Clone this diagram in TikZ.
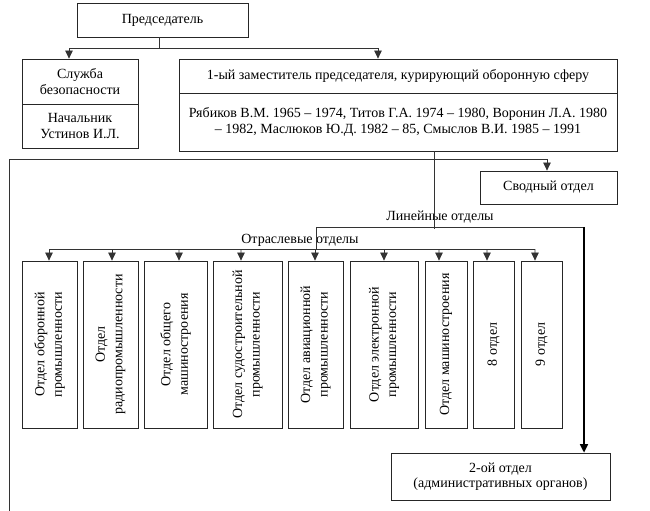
\documentclass[tikz,border=0pt]{standalone}
\usepackage{fontspec}
\setmainfont{Liberation Serif}
\usetikzlibrary{arrows.meta}
\tikzset{
  box/.style={draw=black!85, line width=0.8bp, rectangle, inner sep=0pt, align=center,
    font=\fontsize{14bp}{15.5bp}\selectfont},
  dept/.style={box, minimum width=#1, minimum height=167bp},
  vtext/.style={rotate=90, align=center, inner sep=0pt, font=\fontsize{14bp}{17.5bp}\selectfont},
  lbl/.style={inner sep=0pt, font=\fontsize{14bp}{15.5bp}\selectfont},
  conn/.style={draw=black!80, line width=0.8bp},
  arr/.style={conn, -{Triangle[length=8bp,width=7.5bp]}},
  thickarr/.style={draw=black, line width=1.5bp, -{Triangle[length=8.5bp,width=8bp]}}
}
\begin{document}
\begin{tikzpicture}[x=1bp,y=-1bp]
\useasboundingbox (0,0) rectangle (650,511);

% top boxes
\node[box, minimum width=171bp, minimum height=34bp] (ch) at (162.5,20) {Председатель};
\node[box, minimum width=116bp, minimum height=45bp] (sl1) at (80,81.5) {Служба\\безопасности};
\node[box, minimum width=116bp, minimum height=44bp] (sl2) at (80,126) {Начальник\\Устинов И.Л.};
\node[box, minimum width=438bp, minimum height=34bp] (dep1) at (398,76) {1-ый заместитель председателя, курирующий оборонную сферу};
\node[box, minimum width=438bp, minimum height=58bp] (dep2) at (398,122) {Рябиков В.М. 1965 – 1974, Титов Г.А. 1974 – 1980, Воронин Л.А. 1980\\– 1982, Маслюков Ю.Д. 1982 – 85, Смыслов В.И. 1985 – 1991};
\node[box, minimum width=137bp, minimum height=33bp] (svod) at (548.5,187.5) {Сводный отдел};
\node[box, minimum width=219bp, minimum height=47bp] (two) at (500.5,476.5) {2-ой отдел\\(административных органов)};

% department boxes
\node[dept=55bp] (b1) at (49.5,344.5) {};
\node[dept=55bp] (b2) at (110.5,344.5) {};
\node[dept=63bp] (b3) at (175.5,344.5) {};
\node[dept=69bp] (b4) at (247.5,344.5) {};
\node[dept=55bp] (b5) at (315.5,344.5) {};
\node[dept=68bp] (b6) at (384,344.5) {};
\node[dept=42bp] (b7) at (446,344.5) {};
\node[dept=41bp] (b8) at (493.5,344.5) {};
\node[dept=41bp] (b9) at (541.5,344.5) {};

\node[vtext] at (b1) {Отдел оборонной\\промышленности};
\node[vtext] at (b2) {Отдел\\радиопромышленности};
\node[vtext] at (b3) {Отдел общего\\машиностроения};
\node[vtext] at (b4) {Отдел судостроительной\\промышленности};
\node[vtext] at (b5) {Отдел авиационной\\промышленности};
\node[vtext] at (b6) {Отдел электронной\\промышленности};
\node[vtext] at (b7) {Отдел машиностроения};
\node[vtext] at (b8) {8 отдел};
\node[vtext] at (b9) {9 отдел};

% labels
\node[lbl] (linl) at (440,217) {Линейные отделы};
\node[lbl] (otrl) at (300,240) {Отраслевые отделы};

% connectors from chairman
\coordinate (j1) at (159,48);
\draw[conn] (ch.south -| j1) -- (j1);
\draw[arr] (j1) -| ([xshift=-11bp]sl1.north);
\draw[arr] (j1) -| ([xshift=-20bp]dep1.north);

% from deputy down
\coordinate (dd) at (434,229);
\draw[conn] (dep2.south -| dd) -- (dd);

% long left line to Svodny
\coordinate (botL) at (9,511);
\coordinate (hL) at (9,159);
\draw[arr] (botL) -- (hL) -| ([xshift=-1.5bp]svod.north);

% Lineinye
\coordinate (la) at (316,249);
\coordinate (lr) at (584,227);
\draw[conn] (la) |- (lr);
\draw[thickarr] (lr) -- (lr |- two.north);

% Otraslevye bus
\coordinate (o1) at (49,249);
\coordinate (o9) at (535,249);
\draw[conn] (o1) -- (o9);
\draw[arr] (o1) -- (o1 |- b1.north);
\draw[arr] (112,249) -- ([xshift=1.5bp]b2.north);
\draw[arr] (179,249) -- ([xshift=3.5bp]b3.north);
\draw[arr] (241,249) -- ([xshift=-6.5bp]b4.north);
\draw[arr] (315,249) -- ([xshift=-0.5bp]b5.north);
\draw[arr] (384,249) -- (b6.north);
\draw[arr] (439,249) -- ([xshift=-7bp]b7.north);
\draw[arr] (487,249) -- ([xshift=-6.5bp]b8.north);
\draw[arr] (o9) -- ([xshift=-6.5bp]b9.north);
\end{tikzpicture}
\end{document}
